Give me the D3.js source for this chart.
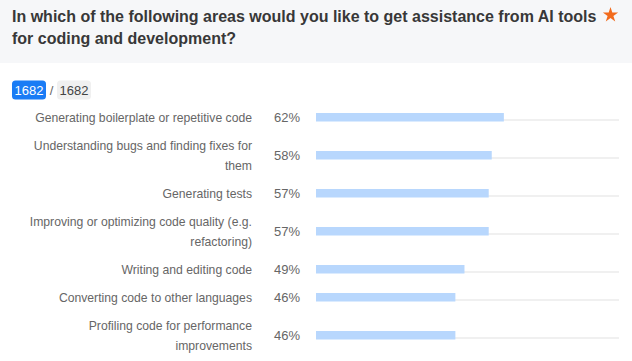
<!DOCTYPE html>
<html><head><meta charset="utf-8">
<script src="https://cdn.jsdelivr.net/npm/d3@7"></script>
<style>
body{margin:0;background:#fff;}
svg{display:block;}
</style></head>
<body>
<svg id="c" width="632" height="361"></svg>
<script>
const titleLines = ["In which of the following areas would you like to get assistance from AI tools", "for coding and development?"];
const responded = 1682;
const total = 1682;
const categories = [
  "Generating boilerplate or repetitive code",
  "Understanding bugs and finding fixes for them",
  "Generating tests",
  "Improving or optimizing code quality (e.g. refactoring)",
  "Writing and editing code",
  "Converting code to other languages",
  "Profiling code for performance improvements"
];
const values = [62, 58, 57, 57, 49, 46, 46];

const svg = d3.select("#c");
const font = "'Liberation Sans', Arial, Helvetica, sans-serif";

// header
svg.append("rect").attr("x",0).attr("y",0).attr("width",632).attr("height",63).attr("fill","#f6f7f9");
svg.append("text").attr("font-family",font).attr("font-size",16).attr("font-weight","bold").attr("fill","#383838")
  .selectAll("tspan").data(titleLines).join("tspan")
  .attr("x",12).attr("y",(d,i)=>21.5+i*22).text(d=>d);
// star
const star = d3.symbol().type(d3.symbolStar).size(72);
svg.append("path").attr("d",star()).attr("transform","translate(610.5,15)").attr("fill","#f26b1d");

// badges
const bg = svg.append("g").attr("font-family",font).attr("font-size",13);
bg.append("rect").attr("x",12).attr("y",80.5).attr("width",34).attr("height",19).attr("rx",3.5).attr("fill","#1a7cf5");
bg.append("text").attr("x",29).attr("y",94.5).attr("text-anchor","middle").attr("fill","#fff").text(responded);
bg.append("text").attr("x",51.5).attr("y",94.5).attr("text-anchor","middle").attr("fill","#666").text("/");
bg.append("rect").attr("x",57).attr("y",80.5).attr("width",34).attr("height",19).attr("rx",3.5).attr("fill","#f0f0f0");
bg.append("text").attr("x",74).attr("y",94.5).attr("text-anchor","middle").attr("fill","#444").text(total);

// wrapping
const labelSize = 12.2;
const measure = svg.append("text").attr("font-family",font).attr("font-size",labelSize).attr("visibility","hidden");
function wrap(str, maxW){
  const words = str.split(" "); const lines=[]; let cur="";
  for(const w of words){
    const t = cur? cur+" "+w : w;
    measure.text(t);
    if(measure.node().getComputedTextLength()>maxW && cur){ lines.push(cur); cur=w; }
    else cur=t;
  }
  lines.push(cur); return lines;
}
const rows = categories.map((c,i)=>({label:c, lines:wrap(c, 226), value:values[i]}));
measure.remove();

const x = d3.scaleLinear().domain([0,100]).range([316,619]);
let yc = 103;
rows.forEach(r=>{ const h = r.lines.length>1 ? 48 : 28; r.cy = yc + h/2; yc += h; });

const g = svg.append("g").attr("font-family",font).attr("font-size",13);
const row = g.selectAll("g.row").data(rows).join("g").attr("class","row");
row.append("text").attr("text-anchor","end").attr("fill","#666").attr("font-size",labelSize)
  .each(function(d){
    const n = d.lines.length;
    d3.select(this).selectAll("tspan").data(d.lines).join("tspan")
      .attr("x",252).attr("y",(l,i)=>d.cy + 4.5 + (i-(n-1)/2)*20).text(l=>l);
  });
row.append("text").attr("x",274).attr("y",d=>d.cy+4.5).attr("fill","#666").text(d=>d.value+"%");
row.append("rect").attr("x",x(0)).attr("y",d=>d.cy+2).attr("width",x(100)-x(0)).attr("height",2).attr("fill","#f0f0f0");
row.append("rect").attr("x",x(0)).attr("y",d=>d.cy-4).attr("width",d=>x(d.value)-x(0)).attr("height",8.5).attr("fill","#b8d7fd");
</script>
</body></html>
